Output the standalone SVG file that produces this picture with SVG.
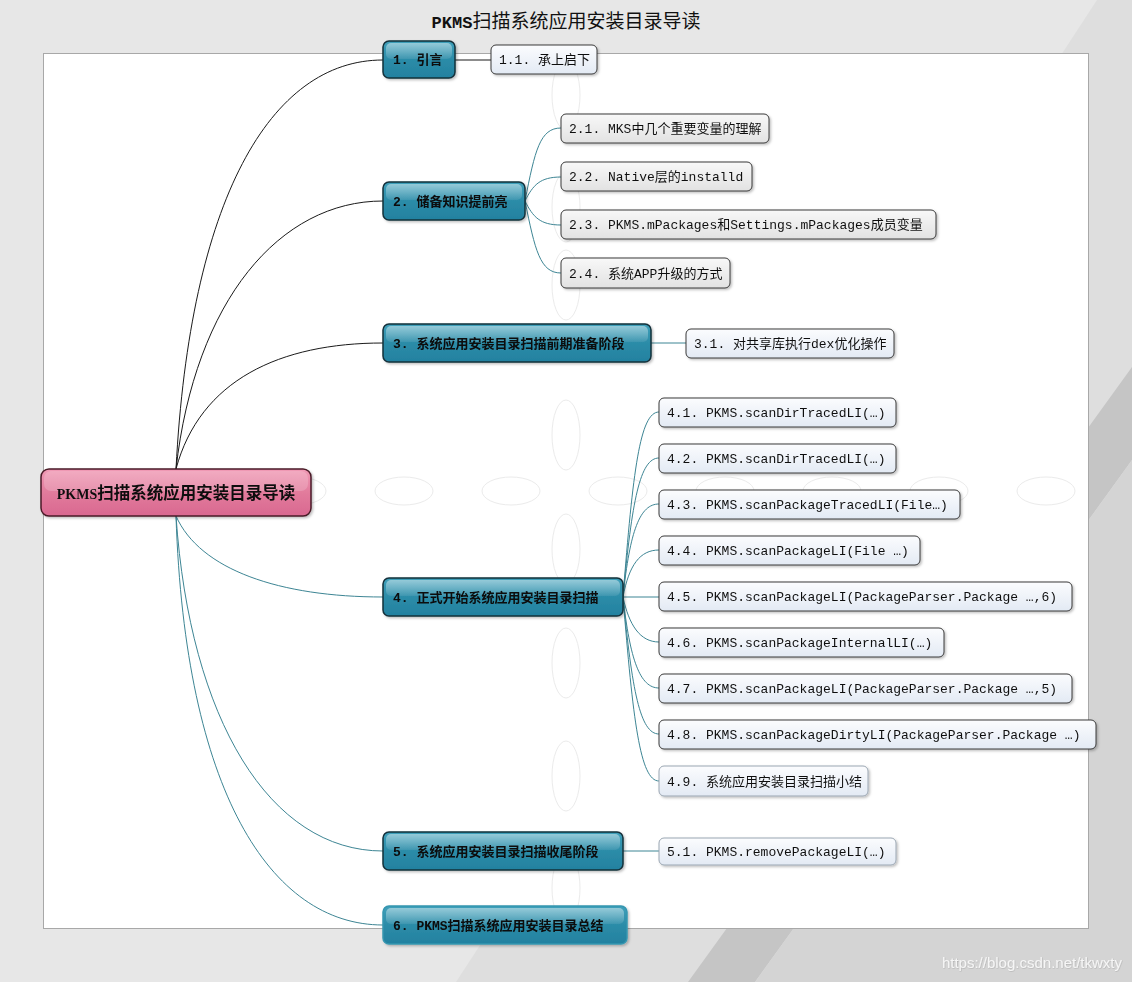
<svg xmlns="http://www.w3.org/2000/svg" width="1132" height="982" viewBox="0 0 1132 982">
<style>
.deco{fill:none;stroke:#ebebeb;stroke-width:1}
.blk{fill:none;stroke:#1a1a1a;stroke-width:1}
.tl{fill:none;stroke:#3d8594;stroke-width:1}
.br rect{fill:url(#gTeal);stroke:#15303a;stroke-width:1.5}
.br .hl{fill:url(#gHl);stroke:none}
.lf rect{fill:url(#gLeaf);stroke:#3a3a3a;stroke-width:1}
.lg rect{fill:url(#gGray);stroke:#3a3a3a;stroke-width:1}
.lf.soft rect{stroke:#9aa6b2}
.t{font-family:"Liberation Mono","Noto Sans CJK SC",monospace;font-size:13px;fill:#111}
.bt{font-family:"Liberation Mono","Noto Sans CJK SC",monospace;font-size:13px;font-weight:bold;fill:#0a0a0a}
</style>
<defs>
<linearGradient id="gTeal" x1="0" y1="0" x2="0" y2="1">
<stop offset="0" stop-color="#3fa0ba"/>
<stop offset="0.5" stop-color="#2c8ca8"/>
<stop offset="1" stop-color="#2381a0"/>
</linearGradient>
<linearGradient id="gHl" x1="0" y1="0" x2="0" y2="1">
<stop offset="0" stop-color="#ffffff" stop-opacity="0.45"/>
<stop offset="1" stop-color="#ffffff" stop-opacity="0.08"/>
</linearGradient>
<linearGradient id="gPink" x1="0" y1="0" x2="0" y2="1">
<stop offset="0" stop-color="#f09ab5"/>
<stop offset="0.5" stop-color="#e27b9c"/>
<stop offset="1" stop-color="#d96890"/>
</linearGradient>
<linearGradient id="gLeaf" x1="0" y1="0" x2="0" y2="1">
<stop offset="0" stop-color="#fbfcfe"/>
<stop offset="1" stop-color="#e3eaf4"/>
</linearGradient>
<linearGradient id="gGray" x1="0" y1="0" x2="0" y2="1">
<stop offset="0" stop-color="#f8f8f8"/>
<stop offset="1" stop-color="#e2e2e2"/>
</linearGradient>
<filter id="sh" x="-10%" y="-20%" width="120%" height="150%">
<feDropShadow dx="1.5" dy="1.5" stdDeviation="1" flood-color="#000" flood-opacity="0.25"/>
</filter>
<filter id="wsh" x="-5%" y="-30%" width="110%" height="160%">
<feDropShadow dx="0.5" dy="0.5" stdDeviation="0.4" flood-color="#000" flood-opacity="0.2"/>
</filter>
</defs>

<g id="background">
<rect x="0" y="0" width="1132" height="982" fill="#e7e7e7"/>
<polygon points="1097,0 1132,0 1132,982 456,982" fill="#dedede"/>
<polygon points="1132,367 1132,460 755,982 688,982" fill="#c5c5c5"/>
<polygon points="1132,460 1132,982 755,982" fill="#d4d4d4"/>
<rect x="43.5" y="53.5" width="1045" height="875" fill="#ffffff" stroke="#a8a8a8" stroke-width="1"/>
<g class="deco">
<ellipse cx="297" cy="491" rx="29" ry="14"/>
<ellipse cx="404" cy="491" rx="29" ry="14"/>
<ellipse cx="511" cy="491" rx="29" ry="14"/>
<ellipse cx="618" cy="491" rx="29" ry="14"/>
<ellipse cx="725" cy="491" rx="29" ry="14"/>
<ellipse cx="832" cy="491" rx="29" ry="14"/>
<ellipse cx="939" cy="491" rx="29" ry="14"/>
<ellipse cx="1046" cy="491" rx="29" ry="14"/>
<ellipse cx="566" cy="95" rx="14" ry="35"/>
<ellipse cx="566" cy="207" rx="14" ry="35"/>
<ellipse cx="566" cy="285" rx="14" ry="35"/>
<ellipse cx="566" cy="435" rx="14" ry="35"/>
<ellipse cx="566" cy="549" rx="14" ry="35"/>
<ellipse cx="566" cy="663" rx="14" ry="35"/>
<ellipse cx="566" cy="776" rx="14" ry="35"/>
<ellipse cx="566" cy="888" rx="14" ry="35"/>
</g>
</g>

<text id="title" x="566" y="28" text-anchor="middle" font-family="'Liberation Mono','Noto Sans CJK SC',monospace" font-size="19" fill="#111"><tspan font-weight="bold" font-size="17">PKMS</tspan>扫描系统应用安装目录导读</text>

<g id="connectors">
<path class="blk" d="M176,469 C190,200 270,60 383,60"/>
<path class="blk" d="M176,469 C195,300 280,201 383,201"/>
<path class="blk" d="M176,469 C200,380 280,343 383,343"/>
<path class="tl" d="M176,516 C200,570 280,597 383,597"/>
<path class="tl" d="M176,516 C190,720 270,851 383,851"/>
<path class="tl" d="M176,516 C185,790 270,925 383,925"/>
<path class="blk" d="M455,60 L491,60"/>
<path class="tl" d="M525,201 C535,150 540,128 561,128"/>
<path class="tl" d="M525,201 C533,185 540,177 561,177"/>
<path class="tl" d="M525,201 C533,217 540,225 561,225"/>
<path class="tl" d="M525,201 C535,250 540,273 561,273"/>
<path class="tl" d="M651,343 L686,343"/>
<path class="tl" d="M623,597 C633,470 640,412 659,412"/>
<path class="tl" d="M623,597 C632,500 640,458 659,458"/>
<path class="tl" d="M623,597 C630,530 640,504 659,504"/>
<path class="tl" d="M623,597 C629,565 640,550 659,550"/>
<path class="tl" d="M623,597 L659,597"/>
<path class="tl" d="M623,597 C629,625 640,642 659,642"/>
<path class="tl" d="M623,597 C630,660 640,688 659,688"/>
<path class="tl" d="M623,597 C632,690 640,734 659,734"/>
<path class="tl" d="M623,597 C633,720 640,781 659,781"/>
<path class="tl" d="M623,851 L659,851"/>
</g>

<g id="root" filter="url(#sh)">
<rect x="41" y="469" width="270" height="47" rx="8" fill="url(#gPink)" stroke="#4a1a28" stroke-width="1.5"/>
<rect x="44" y="471" width="264" height="20" rx="7" fill="#ffffff" fill-opacity="0.18"/>
<text x="176" y="499" text-anchor="middle" font-family="'Liberation Serif','Noto Sans CJK SC',serif" font-size="16.5" font-weight="bold" fill="#111"><tspan font-size="14">PKMS</tspan>扫描系统应用安装目录导读</text>
</g>

<g id="n1" class="br" filter="url(#sh)">
<rect x="383" y="41" width="72" height="37" rx="6"/>
<rect class="hl" x="386" y="43" width="66" height="16" rx="5"/>
<text class="bt" x="393" y="64">1. 引言</text>
</g>
<g id="n2" class="br" filter="url(#sh)">
<rect x="383" y="182" width="142" height="38" rx="6"/>
<rect class="hl" x="386" y="184" width="136" height="16" rx="5"/>
<text class="bt" x="393" y="206">2. 储备知识提前亮</text>
</g>
<g id="n3" class="br" filter="url(#sh)">
<rect x="383" y="324" width="268" height="38" rx="6"/>
<rect class="hl" x="386" y="326" width="262" height="16" rx="5"/>
<text class="bt" x="393" y="348">3. 系统应用安装目录扫描前期准备阶段</text>
</g>
<g id="n4" class="br" filter="url(#sh)">
<rect x="383" y="578" width="240" height="38" rx="6"/>
<rect class="hl" x="386" y="580" width="234" height="16" rx="5"/>
<text class="bt" x="393" y="602">4. 正式开始系统应用安装目录扫描</text>
</g>
<g id="n5" class="br" filter="url(#sh)">
<rect x="383" y="832" width="240" height="38" rx="6"/>
<rect class="hl" x="386" y="834" width="234" height="16" rx="5"/>
<text class="bt" x="393" y="856">5. 系统应用安装目录扫描收尾阶段</text>
</g>
<g id="n6" class="br" filter="url(#sh)">
<rect x="383" y="906" width="244" height="38" rx="6" style="stroke:#3596b0"/>
<rect class="hl" x="386" y="908" width="238" height="16" rx="5"/>
<text class="bt" x="393" y="930">6. PKMS扫描系统应用安装目录总结</text>
</g>

<g id="n1_1" class="lf" filter="url(#sh)"><rect x="491" y="45" width="106" height="29" rx="5"/><text class="t" x="499" y="64">1.1. 承上启下</text></g>
<g id="n2_1" class="lg" filter="url(#sh)"><rect x="561" y="114" width="208" height="29" rx="5"/><text class="t" x="569" y="133">2.1. MKS中几个重要变量的理解</text></g>
<g id="n2_2" class="lg" filter="url(#sh)"><rect x="561" y="162" width="191" height="29" rx="5"/><text class="t" x="569" y="181">2.2. Native层的installd</text></g>
<g id="n2_3" class="lg" filter="url(#sh)"><rect x="561" y="210" width="375" height="29" rx="5"/><text class="t" x="569" y="229">2.3. PKMS.mPackages和Settings.mPackages成员变量</text></g>
<g id="n2_4" class="lg" filter="url(#sh)"><rect x="561" y="258" width="169" height="30" rx="5"/><text class="t" x="569" y="278">2.4. 系统APP升级的方式</text></g>
<g id="n3_1" class="lf" filter="url(#sh)"><rect x="686" y="329" width="208" height="29" rx="5"/><text class="t" x="694" y="348">3.1. 对共享库执行dex优化操作</text></g>
<g id="n4_1" class="lf" filter="url(#sh)"><rect x="659" y="398" width="237" height="29" rx="5"/><text class="t" x="667" y="417">4.1. PKMS.scanDirTracedLI(…)</text></g>
<g id="n4_2" class="lf" filter="url(#sh)"><rect x="659" y="444" width="237" height="29" rx="5"/><text class="t" x="667" y="463">4.2. PKMS.scanDirTracedLI(…)</text></g>
<g id="n4_3" class="lf" filter="url(#sh)"><rect x="659" y="490" width="301" height="29" rx="5"/><text class="t" x="667" y="509">4.3. PKMS.scanPackageTracedLI(File…)</text></g>
<g id="n4_4" class="lf" filter="url(#sh)"><rect x="659" y="536" width="261" height="29" rx="5"/><text class="t" x="667" y="555">4.4. PKMS.scanPackageLI(File …)</text></g>
<g id="n4_5" class="lf" filter="url(#sh)"><rect x="659" y="582" width="413" height="29" rx="5"/><text class="t" x="667" y="601">4.5. PKMS.scanPackageLI(PackageParser.Package …,6)</text></g>
<g id="n4_6" class="lf" filter="url(#sh)"><rect x="659" y="628" width="285" height="29" rx="5"/><text class="t" x="667" y="647">4.6. PKMS.scanPackageInternalLI(…)</text></g>
<g id="n4_7" class="lf" filter="url(#sh)"><rect x="659" y="674" width="413" height="29" rx="5"/><text class="t" x="667" y="693">4.7. PKMS.scanPackageLI(PackageParser.Package …,5)</text></g>
<g id="n4_8" class="lf" filter="url(#sh)"><rect x="659" y="720" width="437" height="29" rx="5"/><text class="t" x="667" y="739">4.8. PKMS.scanPackageDirtyLI(PackageParser.Package …)</text></g>
<g id="n4_9" class="lf soft" filter="url(#sh)"><rect x="659" y="766" width="209" height="30" rx="5"/><text class="t" x="667" y="786">4.9. 系统应用安装目录扫描小结</text></g>
<g id="n5_1" class="lf soft" filter="url(#sh)"><rect x="659" y="838" width="237" height="27" rx="5"/><text class="t" x="667" y="856">5.1. PKMS.removePackageLI(…)</text></g>

<text id="watermark" x="1122" y="968" text-anchor="end" font-family="'Liberation Sans',Arial,sans-serif" font-size="15" fill="#f6f6f6" filter="url(#wsh)">https://blog.csdn.net/tkwxty</text>
</svg>
